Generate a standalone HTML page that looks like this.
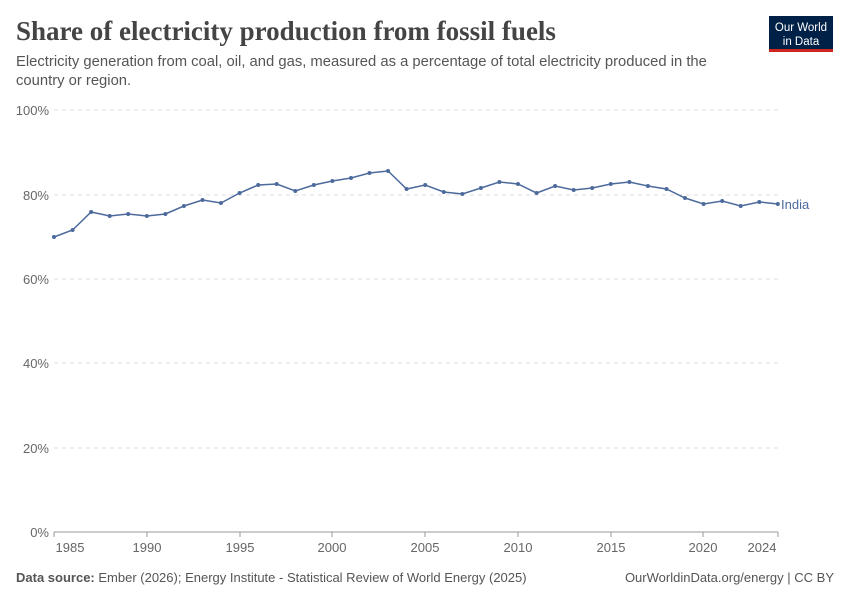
<!DOCTYPE html>
<html><head><meta charset="utf-8"><style>
body{margin:0;width:850px;height:600px;background:#fff;font-family:"Liberation Sans",sans-serif;overflow:hidden}
</style></head><body>
<svg width="850" height="600" xmlns="http://www.w3.org/2000/svg" font-family="Liberation Sans, sans-serif">
<text x="16" y="40" font-family="Liberation Serif, serif" font-size="27" font-weight="bold" fill="#444">Share of electricity production from fossil fuels</text>
<text x="16" y="66" font-size="14.8" fill="#555">Electricity generation from coal, oil, and gas, measured as a percentage of total electricity produced in the</text>
<text x="16" y="85" font-size="14.8" fill="#555">country or region.</text>
<rect x="769" y="16" width="64" height="34" fill="#002147"/>
<rect x="769" y="49" width="64" height="3" fill="#ce261e"/>
<text x="801" y="31" font-size="11.5" fill="#fff" text-anchor="middle">Our World</text>
<text x="801" y="45" font-size="11.5" fill="#fff" text-anchor="middle">in Data</text>
<g stroke="#ddd" stroke-dasharray="4,4">
<line x1="54" x2="778" y1="110" y2="110"/><line x1="54" x2="778" y1="195" y2="195"/>
<line x1="54" x2="778" y1="279" y2="279"/><line x1="54" x2="778" y1="363" y2="363"/>
<line x1="54" x2="778" y1="448" y2="448"/></g>
<line x1="54" x2="778" y1="532" y2="532" stroke="#999"/>
<g font-size="13" fill="#666" text-anchor="end">
<text x="49" y="115">100%</text><text x="49" y="200">80%</text><text x="49" y="284">60%</text>
<text x="49" y="368">40%</text><text x="49" y="453">20%</text><text x="49" y="537">0%</text></g>
<g stroke="#999"><line x1="54" x2="54" y1="532" y2="537"/><line x1="147" x2="147" y1="532" y2="537"/><line x1="240" x2="240" y1="532" y2="537"/><line x1="332" x2="332" y1="532" y2="537"/><line x1="425" x2="425" y1="532" y2="537"/><line x1="518" x2="518" y1="532" y2="537"/><line x1="611" x2="611" y1="532" y2="537"/><line x1="703" x2="703" y1="532" y2="537"/><line x1="778" x2="778" y1="532" y2="537"/></g>
<g font-size="13" fill="#666" text-anchor="middle">
<text x="70" y="552">1985</text><text x="147" y="552">1990</text><text x="240" y="552">1995</text><text x="332" y="552">2000</text><text x="425" y="552">2005</text><text x="518" y="552">2010</text><text x="611" y="552">2015</text><text x="703" y="552">2020</text><text x="762" y="552">2024</text></g>
<polyline fill="none" stroke="#4c6a9c" stroke-width="1.5" id="l" points=""/>
<g id="d" fill="#4c6a9c"></g>
<text x="781" y="209" font-size="13" fill="#4c6a9c">India</text>
<text x="16" y="582" font-size="13" fill="#555"><tspan font-weight="bold">Data source:</tspan> Ember (2026); Energy Institute - Statistical Review of World Energy (2025)</text>
<text x="834" y="582" font-size="13" fill="#555" text-anchor="end">OurWorldinData.org/energy | CC BY</text>
</svg>
<script>
var ys=[237,230,212,216,214,216,214,206,200,203,193,185,184,191,185,181,178,173,171,189,185,192,194,188,182,184,193,186,190,188,184,182,186,189,198,204,201,206,202,204];
var p=[],g=document.getElementById('d'),h='';
ys.forEach(function(y,i){var x=54+i*18.56;p.push(x.toFixed(1)+','+y);h+='<circle cx="'+x.toFixed(1)+'" cy="'+y+'" r="2"/>';});
document.getElementById('l').setAttribute('points',p.join(' '));g.innerHTML=h;
</script>
</body></html>
